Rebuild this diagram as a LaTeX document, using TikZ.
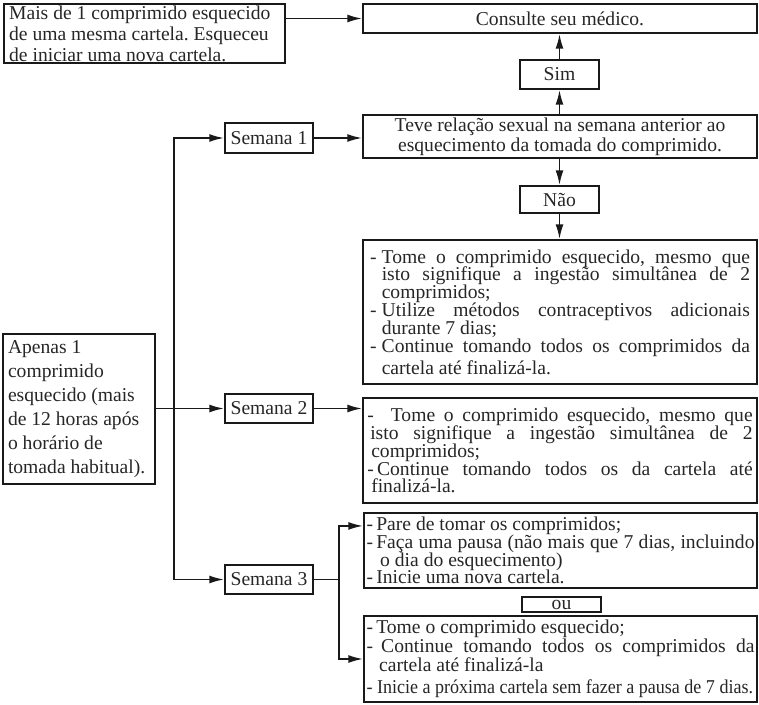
\documentclass[tikz,border=0pt]{standalone}
\usepackage{fontspec}
\setmainfont{Liberation Serif}
\usepackage{graphicx}
\usetikzlibrary{arrows.meta}
\frenchspacing

% justified line and ragged line, with a fixed slot for the dash
\newcommand{\fline}[3][0.6em]{\makebox[#1][l]{#2}\makebox[\dimexpr\hsize-#1\relax][s]{#3}}
\newcommand{\pline}[3][0.6em]{\makebox[#1][l]{#2}#3}

\begin{document}
\begin{tikzpicture}[x=0.75pt, y=-0.75pt,
    every node/.style={font={\fontsize{14.7}{15.75}\selectfont}, text=black!85,
      execute at begin node={\spaceskip=0pt\xspaceskip=0pt\relax}},
    box/.style={draw=black!90, line width=1.6pt, inner sep=0pt, align=center},
    listbox/.style={box, minimum width=295.5pt, align=left,
      font={\fontsize{14.7}{13.4}\selectfont\lineskiplimit=-10pt\parindent=0pt}},
    week/.style={box, minimum width=66pt, minimum height=22pt},
    arr/.style={-{Latex[length=11pt, width=6pt]}, line width=1.2pt, draw=black!90}]
    \useasboundingbox (0,0) rectangle (759,705);

    \node[box, minimum width=210.75pt, minimum height=44.25pt, align=left, text width=203pt] (mais) at (144.5,33.5)
      {Mais de 1 comprimido esquecido\\de uma mesma cartela. Esqueceu\\de iniciar uma nova cartela.};
    \node[box, minimum width=295.5pt, minimum height=21.75pt] (cons) at (560,18.5) {Consulte seu médico.};
    \node[box, minimum width=59.25pt, minimum height=21.75pt] (sim) at (559.5,74.5) {Sim};
    \node[box, minimum width=295.5pt, minimum height=32.25pt, font={\fontsize{14.7}{15}\selectfont}] (teve) at (560,136.5)
      {Teve relação sexual na semana anterior ao\\esquecimento da tomada do comprimido.};
    \node[box, minimum width=59.25pt, minimum height=20.25pt] (nao) at (559.5,199.5) {Não};

    \node[listbox, text width=285pt, minimum height=108pt] (w1) at (560,312)
      {\fline{-}{Tome o comprimido esquecido, mesmo que}\\
       \fline{}{isto signifique a ingestão simultânea de 2}\\
       \pline{}{comprimidos;}\\
       \fline{-}{Utilize métodos contraceptivos adicionais}\\
       \pline{}{durante 7 dias;}\\
       \fline{-}{Continue tomando todos os comprimidos da}\\[3pt]
       \pline{}{cartela até finalizá-la.}};
    \node[listbox, text width=289pt, minimum height=78.75pt] (w2) at (560,450.5)
      {\fline[1.2em]{-}{Tome o comprimido esquecido, mesmo que}\\
       \fline[0.15em]{}{isto signifique a ingestão simultânea de 2}\\
       \pline[0.2em]{}{comprimidos;}\\
       \fline[0.5em]{-}{Continue tomando todos os da cartela até}\\
       \pline[0.2em]{}{finalizá-la.}};
    \node[listbox, text width=291pt, minimum width=294.75pt, minimum height=56.25pt] (w3a) at (560.5,550.5)
      {\pline[0.5em]{-}{Pare de tomar os comprimidos;}\\
       \fline[0.5em]{-}{Faça uma pausa (não mais que 7 dias, incluindo}\\
       \pline[0.7em]{}{o dia do esquecimento)}\\
       \pline[0.5em]{-}{Inicie uma nova cartela.}};
    \node[box, minimum width=59.25pt, minimum height=11.25pt] (ou) at (561.5,604.5) {ou};
    \node[listbox, text width=291pt, minimum width=294.75pt, minimum height=64.5pt,
      font={\fontsize{14.7}{14.25}\selectfont\lineskiplimit=-10pt\parindent=0pt}] (w3b) at (560.5,659)
      {\pline[0.5em]{-}{Tome o comprimido esquecido;}\\
       \fline[0.75em]{-}{Continue tomando todos os comprimidos da}\\
       \pline[0.65em]{}{cartela até finalizá-la}\\[2pt]
       \scalebox{0.92}[1]{- Inicie a próxima cartela sem fazer a pausa de 7 dias.}};

    \node[box, minimum width=114pt, minimum height=112.5pt, align=left, text width=106.5pt,
      font={\fontsize{14.7}{18}\selectfont}] (apenas) at (79,409)
      {Apenas 1\\comprimido\\esquecido (mais\\de 12 horas após\\o horário de\\tomada habitual).};

    \node[week] (sem1) at (269,138) {Semana 1};
    \node[week] (sem2) at (269,408.5) {Semana 2};
    \node[week] (sem3) at (269,579.5) {Semana 3};

    \coordinate (trunk) at (174,0);
    \coordinate (fork) at (339,0);

    \draw[arr] (mais.east |- cons.west) -- (cons.west);
    \draw[arr] (sim.south |- teve.north) -- (sim.south);
    \draw[arr] (sim.north) -- (sim.north |- cons.south);
    \draw[arr] (nao.north |- teve.south) -- (nao.north);
    \draw[arr] (nao.south) -- (nao.south |- w1.north);

    \draw[arr] (trunk |- sem3.west) -- (trunk |- sem1.west) -- (sem1.west);
    \draw[arr] (trunk |- sem3.west) -- (sem3.west);
    \draw[arr] (apenas.east |- sem2.west) -- (sem2.west);
    \draw[arr] (sem1.east) -- (sem1.east -| teve.west);
    \draw[arr] (sem2.east) -- (sem2.east -| w2.west);
    \draw[arr] (sem3.east) -- (fork |- sem3.east) |- ([yshift=-10.5pt]w3a.north west);
    \draw[arr] (fork |- sem3.east) |- (w3b.west);
\end{tikzpicture}
\end{document}
